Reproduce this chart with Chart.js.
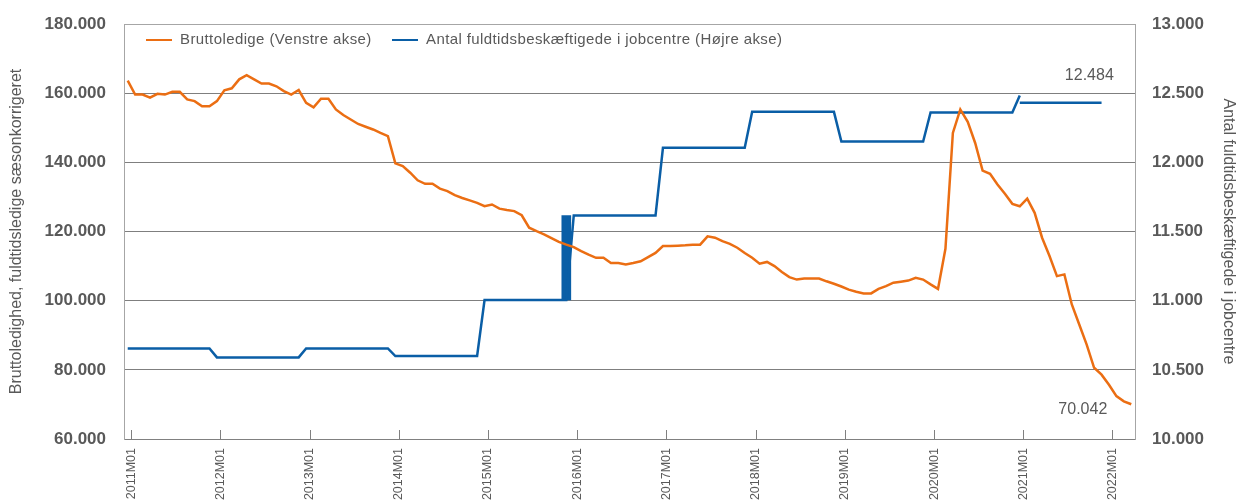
<!DOCTYPE html>
<html lang="da">
<head>
<meta charset="utf-8">
<title>Bruttoledige og jobcentre</title>
<script src="https://cdn.jsdelivr.net/npm/chart.js"></script>
<style>
  body { margin: 0; background: #fff; }
  #wrap { width: 1241px; height: 502px; }
</style>
</head>
<body>
<div id="wrap"><canvas id="chart" width="1241" height="502"></canvas></div>
<script>
  const FONT = '"Liberation Sans", Arial, sans-serif';
  const TEXT = '#595959';
  const ORANGE = '#EB6E13';
  const BLUE = '#0A5EA6';

  // monthly categories 2011M01 .. 2022M04
  const years = [2011, 2012, 2013, 2014, 2015, 2016, 2017, 2018, 2019, 2020, 2021, 2022];
  const lastMonth = '2022M04';
  const months = [];
  for (const y of years) {
    for (let m = 1; m <= 12; m++) {
      const lbl = y + 'M' + String(m).padStart(2, '0');
      if (months.length && months[months.length - 1] === lastMonth) break;
      months.push(lbl);
    }
  }

  // Bruttoledige, fuldtidsledige saesonkorrigeret (left axis)
  const bruttoledige = [
    163600, 159600, 159600, 158700, 159800, 159600, 160400, 160400, 158200, 157700, 156200, 156200,
    157700, 160800, 161400, 164000, 165200, 164000, 162800, 162800, 162000, 160600, 159600, 160900,
    157200, 155900, 158400, 158400, 155300, 153700, 152400, 151100, 150300, 149500, 148500, 147600,
    139700, 138900, 137000, 134800, 133800, 133800, 132400, 131700, 130500, 129700, 129000, 128300,
    127300, 127800, 126600, 126200, 125900, 124700, 121100, 120100, 119200, 118100, 117000, 116200,
    115500, 114300, 113300, 112400, 112400, 110900, 110900, 110500, 110900, 111400, 112600, 113800,
    115800, 115800, 115900, 116000, 116200, 116200, 118600, 118200, 117200, 116400, 115300, 113800,
    112400, 110700, 111200, 110000, 108300, 106800, 106100, 106400, 106400, 106400, 105600, 104900,
    104100, 103200, 102600, 102100, 102100, 103400, 104200, 105200, 105500, 105800, 106600, 106100,
    104700, 103400, 115000, 148500, 155300, 151700, 145600, 137600, 136700, 133600, 130900, 128000,
    127300, 129500, 125400, 118200, 112900, 107100, 107600, 98900, 93100, 87300, 80600, 78600,
    75700, 72400, 70900, 70042
  ];

  // Antal fuldtidsbeskaeftigede i jobcentre (right axis)
  const jobcentre = [
    10655, 10655, 10655, 10655, 10655, 10655, 10655, 10655, 10655, 10655, 10655, 10655,
    10590, 10590, 10590, 10590, 10590, 10590, 10590, 10590, 10590, 10590, 10590, 10590,
    10655, 10655, 10655, 10655, 10655, 10655, 10655, 10655, 10655, 10655, 10655, 10655,
    10600, 10600, 10600, 10600, 10600, 10600, 10600, 10600, 10600, 10600, 10600, 10600,
    11005, 11005, 11005, 11005, 11005, 11005, 11005, 11005, 11005, 11005, 11005, 11005,
    11615, 11615, 11615, 11615, 11615, 11615, 11615, 11615, 11615, 11615, 11615, 11615,
    12105, 12105, 12105, 12105, 12105, 12105, 12105, 12105, 12105, 12105, 12105, 12105,
    12365, 12365, 12365, 12365, 12365, 12365, 12365, 12365, 12365, 12365, 12365, 12365,
    12150, 12150, 12150, 12150, 12150, 12150, 12150, 12150, 12150, 12150, 12150, 12150,
    12360, 12360, 12360, 12360, 12360, 12360, 12360, 12360, 12360, 12360, 12360, 12360,
    12484
  ];
  // 2021 level, drawn as a separate segment
  const jobcentre2021 = [{ x: '2021M01', y: 12430 }, { x: '2021M12', y: 12430 }];
  // the heavy step at the turn of 2015/2016
  const jobcentreStep = [{ x: '2015M12', y: [11005, 11615] }];

  const fmt = v => String(Math.round(v)).replace(/\B(?=(\d{3})+(?!\d))/g, '.');

  const insideLegend = {
    id: 'insideLegend',
    afterDraw(chart) {
      const ctx = chart.ctx;
      const a = chart.chartArea;
      const items = [
        { ds: 0, x: a.left + 22 },
        { ds: 1, x: a.left + 268 }
      ];
      ctx.save();
      ctx.font = '15px ' + FONT;
      ctx.letterSpacing = '0.4px';
      ctx.textBaseline = 'middle';
      ctx.fillStyle = TEXT;
      const y = a.top + 16;
      for (const it of items) {
        const ds = chart.data.datasets[it.ds];
        ctx.strokeStyle = ds.borderColor;
        ctx.lineWidth = 2;
        ctx.beginPath();
        ctx.moveTo(it.x, y);
        ctx.lineTo(it.x + 26, y);
        ctx.stroke();
        ctx.fillText(ds.label, it.x + 34, y);
      }
      ctx.restore();
    }
  };

  const endLabels = {
    id: 'endLabels',
    afterDatasetsDraw(chart) {
      const ctx = chart.ctx;
      ctx.save();
      ctx.font = '16px ' + FONT;
      ctx.fillStyle = TEXT;
      ctx.textAlign = 'right';
      ctx.textBaseline = 'middle';
      const m0 = chart.getDatasetMeta(0);
      const i0 = bruttoledige.length - 1;
      const p0 = m0.data[i0];
      ctx.fillText(fmt(bruttoledige[i0]), p0.x - 24, p0.y + 5);
      const m1 = chart.getDatasetMeta(1);
      const i1 = jobcentre.length - 1;
      const p1 = m1.data[i1];
      ctx.fillText(fmt(jobcentre[i1]), p1.x + 94, p1.y - 20);
      ctx.restore();
    }
  };

  // small tick marks pointing up into the plot at every M01
  const innerTicks = {
    id: 'innerTicks',
    afterDraw(chart) {
      const x = chart.scales.x;
      const ctx = chart.ctx;
      const off = chart.options.scales.x.ticks.labelOffset;
      ctx.save();
      ctx.strokeStyle = '#808080';
      ctx.lineWidth = 1;
      months.forEach((m, i) => {
        if (!m.endsWith('M01')) return;
        const px = Math.round(x.getPixelForValue(i) + off) + 0.5;
        ctx.beginPath();
        ctx.moveTo(px, x.top - 9);
        ctx.lineTo(px, x.top);
        ctx.stroke();
      });
      ctx.restore();
    }
  };

  new Chart(document.getElementById('chart'), {
    type: 'line',
    data: {
      labels: months,
      datasets: [
        {
          label: 'Bruttoledige (Venstre akse)',
          data: bruttoledige,
          borderColor: ORANGE,
          borderWidth: 2.5,
          pointRadius: 0,
          tension: 0,
          yAxisID: 'y'
        },
        {
          label: 'Antal fuldtidsbeskæftigede i jobcentre (Højre akse)',
          data: jobcentre,
          borderColor: BLUE,
          borderWidth: 2.5,
          pointRadius: 0,
          tension: 0,
          yAxisID: 'y1'
        },
        {
          label: '',
          data: jobcentre2021,
          borderColor: BLUE,
          borderWidth: 2.5,
          pointRadius: 0,
          tension: 0,
          yAxisID: 'y1'
        },
        {
          type: 'bar',
          label: '',
          data: jobcentreStep,
          backgroundColor: BLUE,
          barThickness: 9,
          yAxisID: 'y1'
        }
      ]
    },
    options: {
      responsive: false,
      animation: false,
      layout: { padding: { top: 24, left: 0, right: 0, bottom: 0 } },
      plugins: {
        legend: { display: false },
        tooltip: { enabled: false }
      },
      scales: {
        x: {
          type: 'category',
          offset: true,
          grid: { display: false, drawTicks: false },
          border: { display: true, color: '#808080' },
          ticks: {
            autoSkip: false,
            minRotation: 90,
            maxRotation: 90,
            padding: 9,
            labelOffset: 3.5,
            color: TEXT,
            font: { family: FONT, size: 12.5 },
            callback: function (v, i) { return months[i].endsWith('M01') ? months[i] : ''; }
          },
          afterFit: s => { s.height = 63; }
        },
        y: {
          position: 'left',
          min: 60000,
          max: 180000,
          grid: {
            drawTicks: true,
            tickLength: 15,
            tickColor: 'rgba(0,0,0,0)',
            color: c => c.tick.value === 180000 ? '#A6A6A6' : '#7F7F7F'
          },
          border: { display: true, color: '#A6A6A6' },
          ticks: {
            stepSize: 20000,
            padding: 3,
            color: TEXT,
            font: { family: FONT, size: 17, weight: 'bold' },
            callback: v => fmt(v)
          },
          title: {
            display: true,
            text: 'Bruttoledighed, fuldtidsledige sæsonkorrigeret',
            color: TEXT,
            font: { family: FONT, size: 16 },
            padding: { top: 7, bottom: 0 }
          },
          afterFit: s => { s.width = 124; }
        },
        y1: {
          position: 'right',
          min: 10000,
          max: 13000,
          grid: {
            drawOnChartArea: false,
            drawTicks: true,
            tickLength: 14,
            tickColor: 'rgba(0,0,0,0)'
          },
          border: { display: true, color: '#A6A6A6' },
          ticks: {
            stepSize: 500,
            padding: 3,
            color: TEXT,
            font: { family: FONT, size: 17, weight: 'bold' },
            callback: v => fmt(v)
          },
          title: {
            display: true,
            text: 'Antal fuldtidsbeskæftigede i jobcentre',
            color: TEXT,
            font: { family: FONT, size: 16 },
            padding: { top: 3, bottom: 0 }
          },
          afterFit: s => { s.width = 106; }
        }
      }
    },
    plugins: [insideLegend, endLabels, innerTicks]
  });
</script>
</body>
</html>
